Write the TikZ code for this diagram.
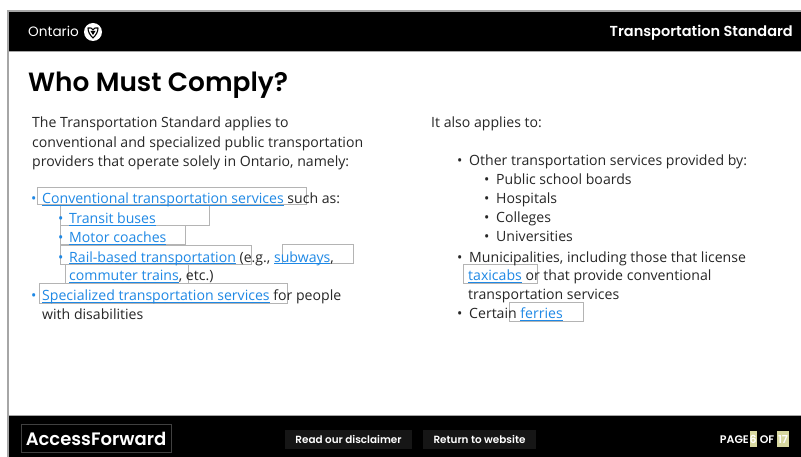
\documentclass[tikz,border=0pt]{standalone}
\usepackage{fontspec}
\setmainfont{Open Sans}
\newfontfamily\headfont{Poppins}[BoldFont={Poppins SemiBold}]
\definecolor{txt}{HTML}{262626}
\definecolor{lnk}{HTML}{1E88E5}
\definecolor{edge}{HTML}{B4B4B4}
\definecolor{frameg}{HTML}{A6A6A6}
\definecolor{btn}{HTML}{161616}
\definecolor{hl}{HTML}{D8D8A0}
\newcommand{\lk}[1]{\textcolor{lnk}{\underline{\smash{#1}}}}
\tikzset{
 x=1pt,y=-1pt,
 body/.style={anchor=base west,inner sep=0pt,font=\fontsize{14.1}{16}\selectfont,text=txt},
 blt/.style={body,text=txt},
 bltb/.style={body,text=lnk},
 linkbox/.style={draw=edge,line width=0.9pt,fill=none},
 btnbox/.style={fill=btn,text=white,font=\headfont\fontsize{10.4}{12}\selectfont\bfseries,inner sep=0pt,minimum height=19pt,anchor=center},
 wh/.style={text=white,inner sep=0pt,anchor=base west},
 pagetxt/.style={wh,font=\headfont\fontsize{11}{12}\selectfont\bfseries}
}
\begin{document}
\begin{tikzpicture}
\useasboundingbox (0,0) rectangle (801,457);
\fill[white] (0,0) rectangle (801,457);
% frame
\fill[frameg] (7,10) rectangle (801,457);
\fill[white] (9,52) rectangle (801,415);
\fill[black] (9,12) rectangle (801,51);
\fill[black] (9,416) rectangle (801,457);
% header
\node[wh,font=\headfont\fontsize{13.6}{14}\selectfont] (ont) at (28,37) {Ontario};
\node[circle,fill=white,minimum size=18pt,inner sep=0pt] (logo) at (93,32) {};
\draw[black,line width=1.1pt,line join=round] (88,28) .. controls (91,27.5) and (92,28) .. (93,30) .. controls (94,28) and (95,27.5) .. (98,28) .. controls (98,32) and (96,35) .. (93,38) .. controls (90,35) and (88,32) .. cycle;
\fill[black] (90.5,31) -- (95.5,31) -- (93,35) -- cycle;
\node[wh,anchor=base east,font=\headfont\fontsize{14.5}{16}\selectfont\bfseries] (hdr) at (793,37) {Transportation Standard};
\node[anchor=base west,inner sep=0pt,text=black,font=\headfont\fontsize{26.4}{30}\selectfont\bfseries] (title) at (28,92) {Who Must Comply?};
% link boxes
\draw[linkbox] (37,187) rectangle (306,204);
\draw[linkbox] (60,205) rectangle (209,225);
\draw[linkbox] (60,225) rectangle (185,244);
\draw[linkbox] (60,245) rectangle (251,264);
\draw[linkbox] (282,244) rectangle (353,263);
\draw[linkbox] (65,264) rectangle (188,283);
\draw[linkbox] (39,283) rectangle (287,303);
\draw[linkbox] (463,264) rectangle (537,283);
\draw[linkbox] (509,302) rectangle (583,321);
% left column
\node[body] (l1) at (32,128) {The Transportation Standard applies to};
\node[body] (l2) at (32,147.5) {conventional and specialized public transportation};
\node[body] (l3) at (32,167) {providers that operate solely in Ontario, namely:};
\node[bltb] (b1) at (31,204) {•};
\node[body] (l4) at (42,204) {\lk{Conventional transportation services} such as:};
\node[bltb] (b2) at (58,224) {•};
\node[body] (l5) at (69,224) {\lk{Transit buses}};
\node[bltb] (b3) at (58,243) {•};
\node[body] (l6) at (69,243) {\lk{Motor coaches}};
\node[bltb] (b4) at (58,262) {•};
\node[body] (l7) at (69,262) {\lk{Rail-based transportation} (e.g., \lk{subways},};
\node[body] (l8) at (69,281) {\lk{commuter trains}, etc.)};
\node[bltb] (b5) at (31,300.5) {•};
\node[body] (l9) at (42,300.5) {\lk{Specialized transportation services} for people};
\node[body] (l10) at (42,319.5) {with disabilities};
% right column
\node[body] (r1) at (431,128) {It also applies to:};
\node[blt] (c1) at (457,166) {•};
\node[body] (r2) at (469,166) {Other transportation services provided by:};
\node[blt] (c2) at (484,185) {•};
\node[body] (r3) at (496,185) {Public school boards};
\node[blt] (c3) at (484,204) {•};
\node[body] (r4) at (496,204) {Hospitals};
\node[blt] (c4) at (484,223) {•};
\node[body] (r5) at (496,223) {Colleges};
\node[blt] (c5) at (484,242) {•};
\node[body] (r6) at (496,242) {Universities};
\node[blt] (c6) at (457,262) {•};
\node[body] (r7) at (469,262) {Municipalities, including those that license};
\node[body] (r8) at (468,280.5) {\lk{taxicabs} or that provide conventional};
\node[body] (r9) at (468,299.5) {transportation services};
\node[blt] (c7) at (457,318.5) {•};
\node[body] (r10) at (469,318.5) {Certain \lk{ferries}};
% footer
\node[draw=white!25!black,line width=0.7pt,text=white,minimum width=150pt,minimum height=28pt,inner sep=0pt,font=\headfont\fontsize{18}{18}\selectfont\bfseries] (af) at (96,438.5) {AccessForward};
\node[btnbox,minimum width=127pt] (dis) at (348.5,439) {Read our disclaimer};
\node[btnbox,minimum width=113pt] (ret) at (479.5,439) {Return to website};
\fill[hl] (749.5,431) rectangle (757,447);
\fill[hl] (777,431) rectangle (789,447);
\node[pagetxt,anchor=base east] (pg1) at (749,443) {PAGE};
\node[pagetxt,anchor=base] (pg2) at (753.2,443) {6};
\node[pagetxt,anchor=base] (pg3) at (767,443) {OF};
\node[pagetxt,anchor=base] (pg4) at (783,443) {17};
\end{tikzpicture}
\end{document}
